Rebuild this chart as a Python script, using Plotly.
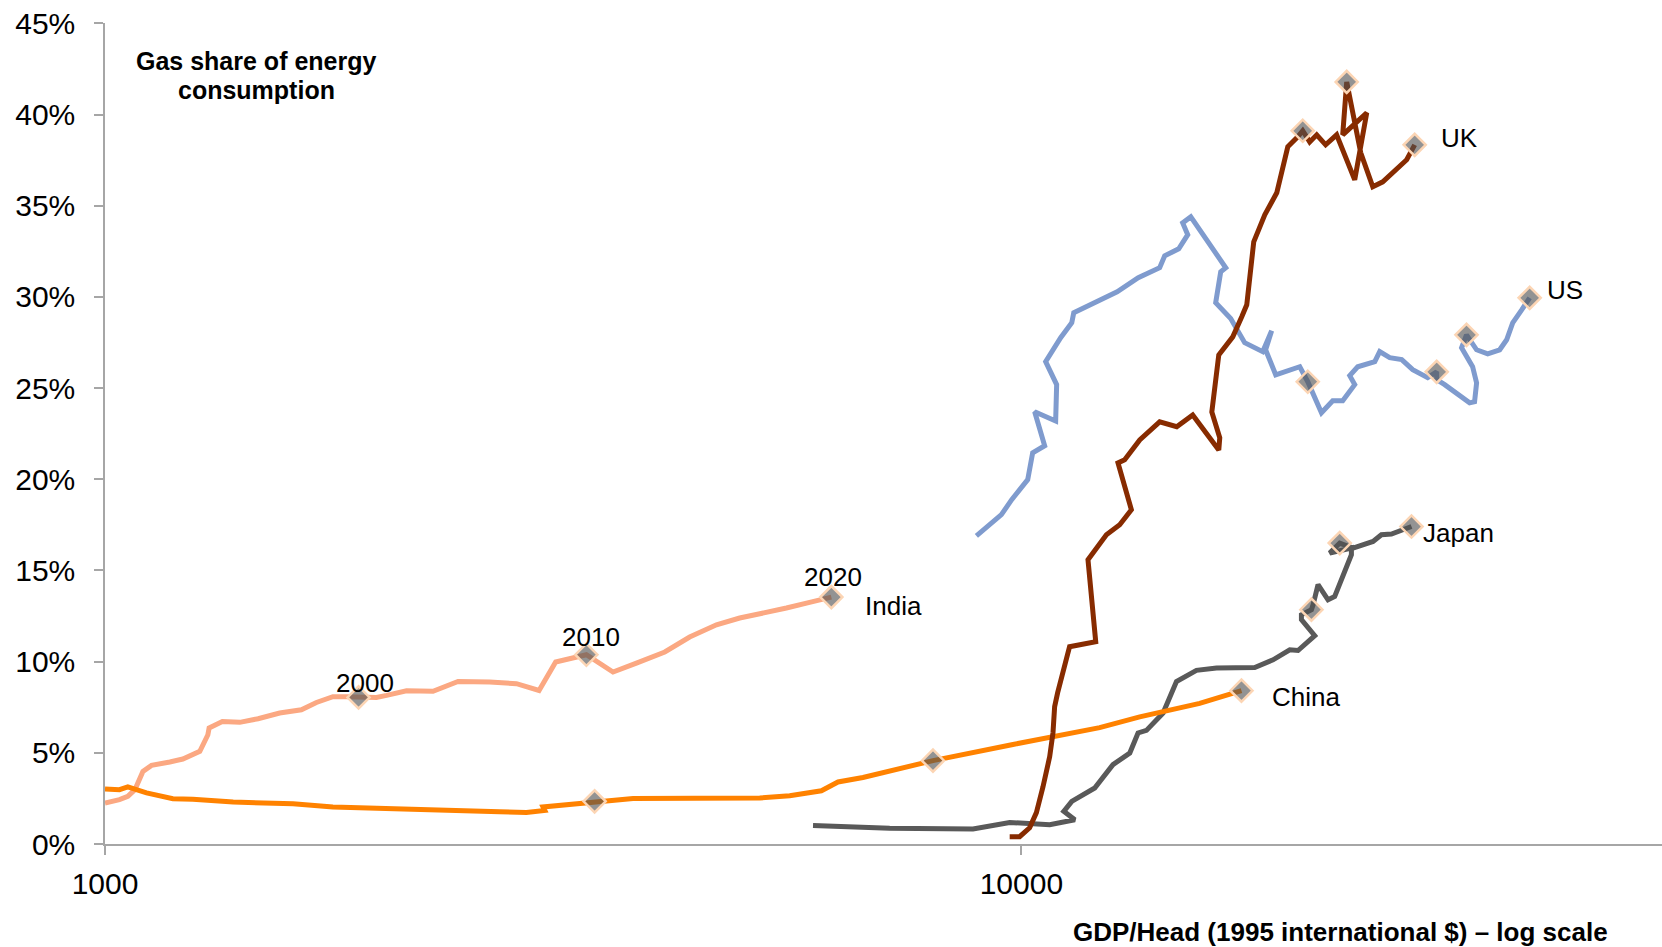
import math
import plotly.graph_objects as go

# ---------------- data (GDP/head in 1995 intl $, gas share in %) ----------------
india_gdp = [1000, 1037, 1059, 1078, 1100, 1124, 1177, 1216, 1269, 1295, 1299, 1343, 1403, 1469, 1551,
             1638, 1701, 1773, 1834, 1891, 1978, 2029, 2133, 2280, 2428, 2629, 2812, 2976, 3103, 3352,
             3584, 3801, 4082, 4345, 4648, 4927, 5224, 5541, 5828, 6203]
india_gas = [2.25, 2.43, 2.61, 2.98, 3.98, 4.31, 4.50, 4.66, 5.08, 5.99, 6.36, 6.72, 6.67, 6.87, 7.18,
             7.36, 7.76, 8.08, 8.08, 8.04, 8.04, 8.15, 8.40, 8.37, 8.91, 8.88, 8.79, 8.42, 9.98, 10.38,
             9.43, 9.92, 10.53, 11.35, 12.02, 12.39, 12.63, 12.94, 13.21, 13.54]
india_marks = [19, 29, 39]
india_years = ["2000", "2010", "2020"]

china_gdp = [1000, 1037, 1059, 1082, 1110, 1186, 1247, 1380, 1525, 1604, 1773, 1929, 2150, 2696, 2883,
             3019, 3006, 3188, 3422, 3769, 5182, 5587, 6050, 6308, 6716, 7328, 8008, 9790, 12173, 13462,
             15651, 17384]
china_gas = [3.02, 2.98, 3.13, 2.98, 2.80, 2.48, 2.45, 2.30, 2.21, 2.21, 2.03, 1.99, 1.92, 1.77, 1.73,
             1.84, 2.03, 2.14, 2.34, 2.50, 2.52, 2.65, 2.92, 3.40, 3.65, 4.10, 4.57, 5.46, 6.38, 6.97,
             7.71, 8.41]
china_marks = [18, 26, 31]

japan_gdp = [5924, 7182, 8855, 9710, 10737, 11437, 11124, 11349, 12023, 12586, 13130, 13405, 13692, 14276,
             14764, 15524, 16326, 17973, 18820, 19627, 20038, 20898, 20210, 20210, 20725, 20811, 21072,
             21607, 21973, 22915, 22915, 21697, 22252, 23006, 24195, 24708, 25339, 26649]
japan_gas = [1.02, 0.86, 0.82, 1.18, 1.06, 1.33, 1.79, 2.34, 3.07, 4.35, 4.99, 6.09, 6.23, 7.18,
             8.91, 9.52, 9.65, 9.68, 10.10, 10.65, 10.61, 11.42, 12.30, 12.57, 12.85, 13.12, 14.22,
             13.39, 13.57, 15.86, 16.23, 15.95, 16.50, 16.23, 16.59, 16.96, 17.00, 17.41]
japan_marks = [24, 32, 37]

uk_gdp = [9710, 9956, 10209, 10384, 10558, 10737, 10826, 10871, 10954, 11287, 12053, 11932, 11821, 12381,
          12802, 13183, 12908, 12747, 12963, 13462, 14154, 14774, 15379, 16420, 16461, 16136, 16420, 17008,
          17396, 17617, 17928, 18432, 18996, 19529, 20025, 20276, 20636, 21001, 21478, 22080, 23106, 23814,
          22420, 22646, 23459, 24178, 24793, 25677, 26329, 26863]
uk_gas = [0.40, 0.40, 0.89, 1.72, 3.14, 4.79, 6.10, 7.53, 8.30, 10.82, 11.09, 13.78, 15.59, 16.96,
          17.51, 18.33, 19.98, 20.90, 21.07, 22.16, 23.15, 22.88, 23.53, 21.60, 22.28, 23.69, 26.82, 27.81,
          28.91, 29.57, 33.02, 34.50, 35.71, 38.23, 38.78, 39.11, 38.50, 38.89, 38.34, 38.89, 36.42, 40.09,
          38.89, 41.79, 37.90, 36.04, 36.31, 36.97, 37.52, 38.34]
uk_marks = [35, 43, 49]

us_gdp = [8931, 9510, 9759, 10083, 10160, 10287, 10602, 10339, 10899, 10926, 10628, 11037, 11349, 11406,
          12265, 12720, 13412, 14154, 14334, 14849, 15189, 14997, 15305, 16711, 16500, 16293, 16919, 17524,
          18336, 18660, 18754, 18472, 18945, 20127, 20535, 21254, 21864, 22420, 23106, 22819, 23281, 24301,
          24604, 25229, 26002, 26730, 27756, 28391, 28391, 28966, 30839, 31226, 31385, 31072, 30221, 30599,
          31385, 32273, 33260, 33848, 34364, 35150, 35861]
us_gas = [16.90, 18.06, 18.88, 19.81, 19.98, 21.45, 21.84, 23.70, 23.20, 25.19, 26.45, 27.76, 28.58, 29.13,
          29.90, 30.28, 31.05, 31.60, 32.25, 32.64, 33.41, 34.06, 34.39, 31.60, 31.38, 29.68, 28.81, 27.49,
          27.00, 28.04, 28.14, 27.10, 25.73, 26.17, 25.35, 23.65, 24.31, 24.31, 25.19, 25.68, 26.17, 26.45,
          27.00, 26.67, 26.56, 26.01, 25.57, 25.89, 25.46, 25.19, 24.19, 24.25, 25.29, 26.17, 27.21, 27.92,
          27.10, 26.88, 27.10, 27.65, 28.58, 29.29, 29.95]
us_marks = [34, 47, 55, 62]

y_ticks = [0, 5, 10, 15, 20, 25, 30, 35, 40, 45]
y_ticktext = [f"{v}%" for v in y_ticks]
x_ticks = [1000, 10000]
x_ticktext = ["1000", "10000"]

# ---------------- styling ----------------
FONT = "Liberation Sans, Arial, Helvetica, sans-serif"
AXIS_GREY = "#A6A6A6"

# name, x, y, marker indices, colour, label offset (xshift, yshift)
series = [
    ("India", india_gdp, india_gas, india_marks, "#FBA882", (32, -9)),
    ("Japan", japan_gdp, japan_gas, japan_marks, "#595959", (10, -6)),
    ("China", china_gdp, china_gas, china_marks, "#FF8200", (29, -6)),
    ("US", us_gdp, us_gas, us_marks, "#7F9BCE", (15, 8)),
    ("UK", uk_gdp, uk_gas, uk_marks, "#872B00", (24, 7)),
]

fig = go.Figure()

for name, xs, ys, marks, color, _ in series:
    fig.add_trace(go.Scatter(
        x=xs, y=ys, mode="lines", name=name,
        line=dict(color=color, width=5),
        showlegend=False, hoverinfo="skip",
    ))

for name, xs, ys, marks, color, _ in series:
    fig.add_trace(go.Scatter(
        x=[xs[i] for i in marks], y=[ys[i] for i in marks], mode="markers",
        marker=dict(symbol="diamond", size=17, color="rgba(80,80,80,0.62)",
                    line=dict(color="#FCD5B4", width=2.5)),
        showlegend=False, hoverinfo="skip",
    ))

annotations = []
# country labels next to last point
for name, xs, ys, marks, color, (dx, dy) in series:
    annotations.append(dict(
        x=math.log10(xs[-1]), y=ys[-1], xref="x", yref="y",
        text=name, showarrow=False, xanchor="left", yanchor="middle",
        xshift=dx, yshift=dy, font=dict(family=FONT, size=26, color="black"),
    ))
# year labels above India markers
year_shifts = [(6, 14), (5, 18), (2, 20)]
for idx, yr, (dx, dy) in zip(india_marks, india_years, year_shifts):
    annotations.append(dict(
        x=math.log10(india_gdp[idx]), y=india_gas[idx], xref="x", yref="y",
        text=yr, showarrow=False, xanchor="center", yanchor="middle",
        xshift=dx, yshift=dy, font=dict(family=FONT, size=26, color="black"),
    ))
# chart title inside plot (two lines)
for line_text, ypos in (("Gas share of energy", 42.95), ("consumption", 41.33)):
    annotations.append(dict(
        x=3.165, y=ypos, xref="x", yref="y",
        text=f"<b>{line_text}</b>", showarrow=False,
        xanchor="center", yanchor="middle",
        font=dict(family=FONT, size=25, color="black"),
    ))
# x-axis title
annotations.append(dict(
    x=4.348, y=-0.107, xref="x", yref="paper",
    text="<b>GDP/Head (1995 international $) – log scale</b>", showarrow=False,
    xanchor="center", yanchor="middle",
    font=dict(family=FONT, size=26, color="black"),
))

W, H = 1662, 947
L, T, B = 105, 23, 103
fig.update_layout(
    width=W, height=H,
    margin=dict(l=L, r=0, t=T, b=B, pad=0),
    paper_bgcolor="white", plot_bgcolor="white",
    font=dict(family=FONT, color="black"),
    annotations=annotations,
    xaxis=dict(
        type="log", range=[3, 3 + (W - L) / 916.4],
        tickvals=x_ticks, ticktext=x_ticktext,
        showline=True, linecolor=AXIS_GREY, linewidth=1.5,
        ticks="outside", ticklen=9, tickcolor=AXIS_GREY, tickwidth=1.5,
        showgrid=False, zeroline=False,
        tickfont=dict(family=FONT, size=30, color="black"),
        ticklabelstandoff=3, ticklabeloverflow="allow",
    ),
    yaxis=dict(
        range=[0, 45.02],
        tickvals=y_ticks, ticktext=y_ticktext,
        showline=True, linecolor=AXIS_GREY, linewidth=1.5,
        ticks="outside", ticklen=9, tickcolor=AXIS_GREY, tickwidth=1.5,
        showgrid=False, zeroline=False,
        tickfont=dict(family=FONT, size=30, color="black"),
        ticklabelstandoff=13, ticklabeloverflow="allow",
    ),
)

fig.write_html(
    "out.html",
    config={"displayModeBar": False},
    post_script="document.body.style.margin='0';document.body.style.overflow='hidden';",
)
